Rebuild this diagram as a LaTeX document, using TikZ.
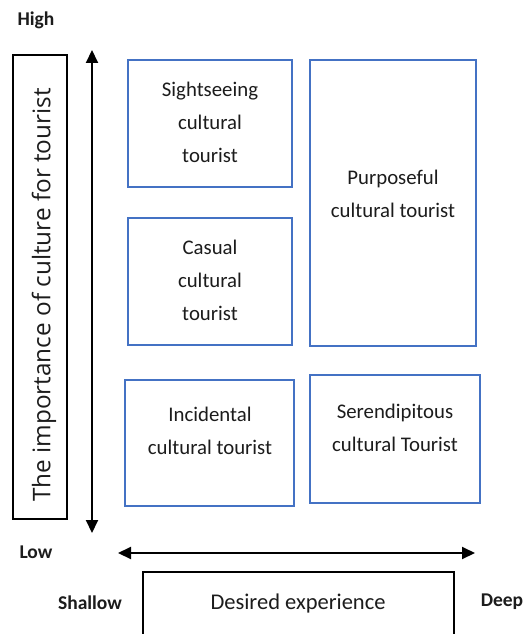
\documentclass[tikz,border=0pt]{standalone}
\usepackage{fontspec}
\setmainfont{Carlito}
\newfontfamily\axisfont{Open Sans}
\usetikzlibrary{arrows.meta}
\definecolor{boxblue}{RGB}{68,114,196}
\definecolor{inkgray}{RGB}{28,28,28}
\begin{document}
\begin{tikzpicture}[x=1bp,y=-1bp,
  bluebox/.style={draw=boxblue, line width=2bp, rectangle, inner sep=0pt},
  blackbox/.style={draw=black, line width=2bp, rectangle, inner sep=0pt},
  boxtext/.style={text=inkgray, align=center, inner sep=0pt,
    font=\fontsize{20.8bp}{33bp}\selectfont},
  endlabel/.style={text=inkgray, inner sep=0pt,
    font=\fontsize{19.5bp}{22bp}\selectfont\bfseries},
  axisarrow/.style={line width=2bp, {Triangle[length=13bp,width=12bp]}-{Triangle[length=13bp,width=12bp]}}
]
\useasboundingbox (0,0) rectangle (532,634);
\fill[white] (0,0) rectangle (532,634);

% quadrant boxes
\node[bluebox, minimum width=164bp, minimum height=127bp] (sight) at (210,123.5) {};
\node[bluebox, minimum width=166bp, minimum height=286bp] (purp) at (393,203) {};
\node[bluebox, minimum width=164bp, minimum height=127bp] (casual) at (210,281.5) {};
\node[bluebox, minimum width=169bp, minimum height=126bp] (incid) at (209.5,443) {};
\node[bluebox, minimum width=170bp, minimum height=128bp] (seren) at (395,439) {};

\node[boxtext] (sighttxt) at (210,122) {Sightseeing\\cultural\\tourist};
\node[boxtext] (purptxt) at (393,194) {Purposeful\\cultural tourist};
\node[boxtext] (casualtxt) at (210,280) {Casual\\cultural\\tourist};
\node[boxtext] (incidtxt) at (210,431) {Incidental\\cultural tourist};
\node[boxtext] (serentxt) at (395,428) {Serendipitous\\cultural Tourist};

% vertical axis title
\node[blackbox, minimum width=54bp, minimum height=464bp] (vbox) at (40,287) {};
\node[text=inkgray, inner sep=0pt, rotate=90,
  font=\axisfont\fontsize{24.3bp}{28bp}\selectfont] (vtitle) at (44,295)
  {The importance of culture for tourist};

% horizontal axis title
\node[blackbox, minimum width=311bp, minimum height=68bp] (hbox) at (298.5,606) {};
\node[text=inkgray, inner sep=0pt, font=\fontsize{22.5bp}{26bp}\selectfont] (htitle) at (298,603) {Desired experience};

% axis end labels
\node[endlabel] (high) at (36,20) {High};
\node[endlabel] (low) at (36,552) {Low};
\node[endlabel] (shallow) at (90,603) {Shallow};
\node[endlabel] (deep) at (502,602) {Deep};

% axes
\coordinate (vtop) at (92,50);
\coordinate (vbot) at (92,533);
\coordinate (hleft) at (118,553);
\coordinate (hright) at (475,553);
\draw[axisarrow] (vbot) -- (vtop);
\draw[axisarrow] (hleft) -- (hright);
\end{tikzpicture}
\end{document}
